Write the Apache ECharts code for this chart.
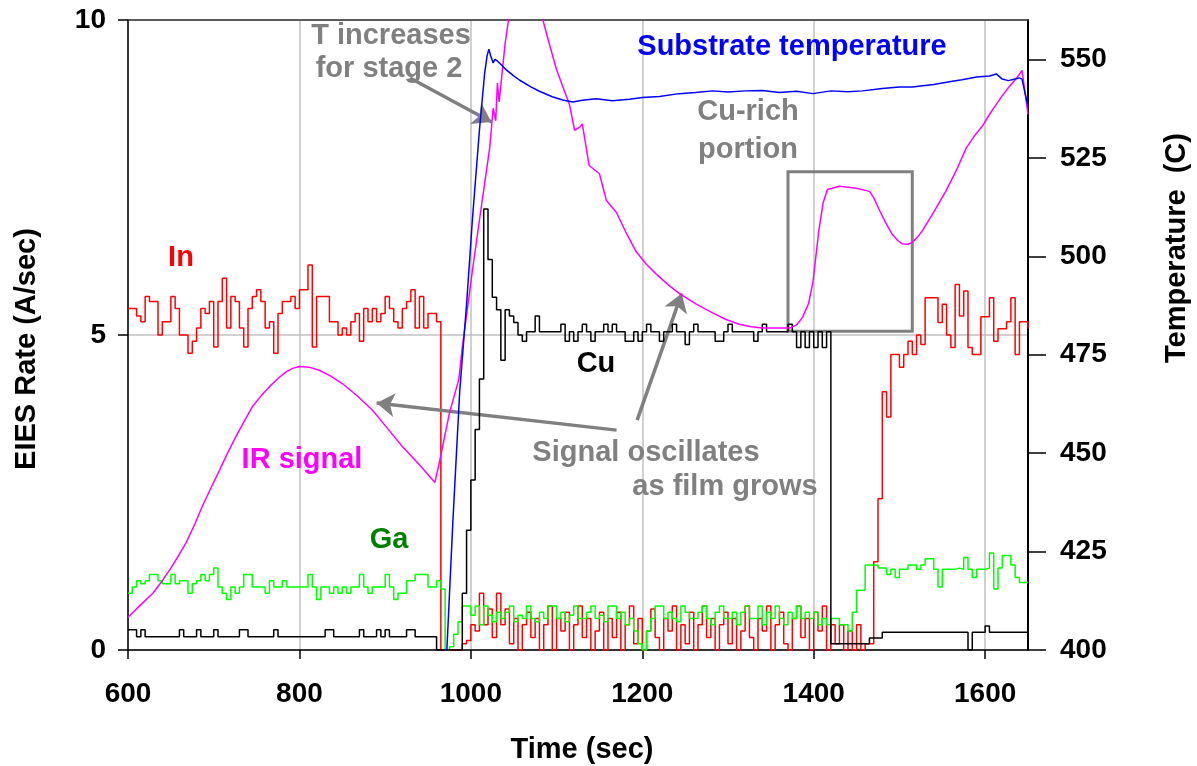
<!DOCTYPE html>
<html><head><meta charset="utf-8">
<script src="https://cdn.jsdelivr.net/npm/echarts@6/dist/echarts.min.js"></script>
<style>html,body{margin:0;padding:0;background:#fff}#c{width:1197px;height:766px}</style>
</head><body><div id="c"></div>
<script>
// sampling grid of the EIES rate traces (seconds)
const T0 = 600, DT = 5;

const inRate = [
 5.42,5.42,5.30,5.21,5.61,5.53,5.53,5.00,5.21,5.21,
 5.61,5.42,5.00,5.00,4.71,4.90,5.11,5.42,5.34,5.53,
 4.81,5.53,5.90,5.11,5.61,5.53,5.11,4.81,5.42,5.61,
 5.72,5.53,5.11,5.21,4.71,5.34,5.53,5.53,5.61,5.42,
 5.72,5.72,6.11,4.81,5.61,5.61,5.61,5.21,5.21,5.00,
 5.11,5.00,5.21,5.34,4.90,5.42,5.21,5.42,5.21,5.34,
 5.61,5.42,5.21,5.11,5.42,5.53,5.72,5.11,5.61,5.11,
 5.34,5.34,5.21,0,0,0,0,0,0.1,0.15,
 0.4,0.3,0.9,0.4,0.65,0.2,0.9,0.4,0.65,0.1,
 0.5,0,0.4,0.6,0.2,0.5,0,0.4,0.7,0,
 0.5,0.3,0.6,0,0.4,0.7,0.2,0.5,0,0.3,
 0.6,0,0.5,0.2,0.6,0,0.4,0.7,0.1,0.5,
 0,0.3,0.65,0.2,0,0.5,0.3,0.7,0,0.4,
 0.1,0.6,0,0.4,0.7,0.2,0.5,0,0.4,0.6,
 0.1,0.5,0,0.3,0.7,0.2,0,0.5,0.3,0.7,
 0,0.4,0.6,0.1,0,0.5,0.7,0.2,0.5,0,
 0.6,0.3,0.7,0,0.4,0.1,0.4,0,0.3,0,
 0.4,0,0.1,0.1,1.4,2.4,4.1,3.7,4.69,4.69,
 4.49,4.69,4.9,4.69,5.0,4.85,5.59,5.59,5.59,5.2,
 5.49,5.0,4.8,5.8,5.3,5.7,4.8,4.69,4.69,5.29,
 5.29,5.59,4.9,5.1,5.1,5.21,5.59,4.69,5.21,5.21,
 5.1
];

const gaRate = [
 0.9,1.0,1.1,1.05,1.1,1.2,1.2,1.1,1.05,1.05,
 1.2,1.05,1.1,1.1,0.9,1.05,1.1,1.2,1.1,1.2,
 1.3,1.0,0.9,0.8,1.0,0.9,1.0,1.2,1.2,1.0,
 1.0,1.0,0.9,1.1,1.0,1.0,1.1,1.0,1.0,1.0,
 1.0,1.0,1.2,1.0,0.8,1.0,1.0,0.9,1.0,0.9,
 1.0,0.9,1.0,1.0,1.2,1.0,0.9,1.0,1.0,1.0,
 1.2,1.0,0.8,0.9,0.9,1.1,1.1,1.2,1.2,1.2,
 1.0,1.0,1.1,0.97,0,0.05,0.25,0.45,0.7,0.7,
 0.55,0.7,0.4,0.7,0.55,0.45,0.6,0.5,0.6,0.7,
 0.45,0.55,0.5,0.7,0.5,0.45,0.6,0.5,0.7,0.7,
 0.5,0.6,0.45,0.55,0.7,0.5,0.5,0.6,0.7,0.5,
 0.55,0.45,0.7,0.7,0.5,0.6,0.4,0.5,0.3,0.1,
 0,0.3,0.5,0.7,0.7,0.5,0.6,0.5,0.45,0.7,
 0.6,0.5,0.5,0.6,0.7,0.5,0.4,0.6,0.7,0.5,
 0.5,0.6,0.4,0.6,0.7,0.5,0.5,0.7,0.4,0.6,
 0.5,0.7,0.5,0.4,0.6,0.5,0.7,0.5,0.6,0.5,
 0.6,0.4,0.5,0.4,0.5,0.5,0.4,0.4,0.3,0.6,
 0.95,0.95,1.35,1.35,1.35,1.3,1.3,1.2,1.28,1.15,
 1.28,1.28,1.35,1.35,1.28,1.35,1.45,1.45,1.28,1.0,
 1.28,1.28,1.28,1.3,1.28,1.47,1.28,1.15,1.28,1.28,
 1.3,1.54,0.97,1.3,1.5,1.5,1.35,1.15,1.07,1.07,
 1.07
];

const cuRate = [
 0.32,0.32,0.21,0.32,0.21,0.21,0.21,0.21,0.21,0.21,
 0.21,0.21,0.32,0.21,0.21,0.21,0.32,0.21,0.21,0.21,
 0.32,0.21,0.21,0.21,0.21,0.21,0.32,0.32,0.21,0.21,
 0.21,0.21,0.21,0.21,0.32,0.21,0.21,0.21,0.21,0.21,
 0.21,0.21,0.21,0.21,0.21,0.21,0.32,0.32,0.21,0.21,
 0.21,0.21,0.21,0.21,0.32,0.21,0.21,0.21,0.32,0.21,
 0.32,0.21,0.21,0.21,0.21,0.32,0.32,0.21,0.21,0.21,
 0.21,0.21,0,0,0,0,0,0,0.9,1.9,
 2.7,3.5,4.3,7.0,6.2,5.6,5.4,4.6,5.4,5.3,
 5.2,5.0,4.9,5.05,5.05,5.3,5.05,5.05,5.05,5.05,
 5.05,5.17,4.9,5.05,4.9,5.05,5.17,5.05,4.9,5.05,
 5.05,5.17,5.05,5.17,5.05,5.05,4.9,4.9,5.05,4.9,
 5.05,5.17,5.05,5.05,4.9,5.05,5.05,5.17,5.05,5.05,
 4.85,5.05,5.17,5.05,5.05,5.05,5.05,4.9,4.9,5.05,
 5.17,5.05,5.05,5.05,5.05,5.05,4.9,5.05,5.17,5.05,
 5.05,5.05,5.05,5.05,5.17,5.05,4.8,5.05,4.8,5.05,
 4.8,5.05,4.8,5.05,0.1,0.1,0.1,0.1,0.1,0.1,
 0.1,0.1,0.1,0.19,0.19,0.19,0.28,0.28,0.28,0.28,
 0.28,0.28,0.28,0.28,0.28,0.28,0.28,0.28,0.28,0.28,
 0.28,0.28,0.28,0.28,0.28,0.28,0,0.28,0.28,0.28,
 0.38,0.28,0.28,0.28,0.28,0.28,0.28,0.28,0.28,0.28,
 0.28
];

// IR signal [time, value on rate axis]
const irSignal = [
 [600,0.52],[615,0.72],[629,0.9],[640,1.1],[650,1.3],[660,1.52],[668,1.71],[678,2.0],[687,2.29],
 [697,2.58],[707,2.86],[716,3.12],[726,3.39],[736,3.64],[745,3.86],[755,4.03],[765,4.18],[775,4.31],
 [784,4.41],[792,4.47],[800,4.5],[811,4.49],[823,4.44],[836,4.35],[850,4.23],[867,4.04],[885,3.81],
 [902,3.53],[920,3.23],[940,2.94],[958,2.66],
 [963,2.96],[975,3.76],[986,4.3],[990,4.8],[1002,6.04],[1014,7.21],[1022,7.97],[1026,8.6],
 [1029,8.4],[1031,9.0],[1033,8.7],[1036,9.1],[1040,9.63],[1045,10.1],[1055,10.6],[1065,10.8],
 [1075,10.6],[1084,10.0],[1092,9.6],[1100,9.21],[1115,8.66],[1121,8.25],[1127,8.3],[1130,8.35],
 [1138,7.69],[1150,7.56],[1158,7.14],[1170,6.94],[1182,6.6],[1193,6.32],[1205,6.12],[1216,5.97],
 [1230,5.8],[1243,5.66],[1263,5.49],[1282,5.35],[1297,5.25],[1313,5.17],[1327,5.13],[1340,5.11],
 [1372,5.11],[1380,5.16],[1387,5.28],[1394,5.5],[1399,5.83],[1406,6.66],[1411,7.1],[1416,7.31],
 [1430,7.36],[1450,7.33],[1465,7.28],[1470,7.18],[1476,7.0],[1484,6.78],[1492,6.59],[1498,6.5],
 [1503,6.45],[1510,6.44],[1515,6.47],[1521,6.55],[1527,6.66],[1540,6.95],[1554,7.28],[1566,7.6],
 [1578,7.97],[1587,8.15],[1597,8.32],[1605,8.5],[1613,8.66],[1620,8.8],[1628,8.94],[1635,9.05],
 [1640,9.14],[1643,9.2],[1650,8.5]
];

// substrate temperature [time, deg C]
const substrateTemp = [
 [968,396],[972,400],[979,432.6],[987,465.7],[995,487.8],[1002,509.9],[1010,532],[1016,546.3],
 [1019,551],[1021,552.6],[1023,551],[1026,549.1],[1028,550],[1031,549.6],[1036,548.5],[1041,547.4],
 [1050,545.8],[1057,544.7],[1070,543],[1080,541.9],[1095,540.5],[1107,539.7],[1119,539.2],[1130,539.6],
 [1146,540],[1165,539.5],[1185,539.9],[1200,540.3],[1220,540.6],[1243,541.3],[1262,541.6],[1282,542],
 [1300,541.7],[1320,542],[1340,542.1],[1360,541.6],[1380,541.9],[1399,541.3],[1420,542],[1440,541.8],
 [1457,542],[1480,542.6],[1500,543],[1515,543],[1540,543.6],[1560,544.4],[1573,544.8],[1590,545.5],
 [1605,545.8],[1613,546.3],[1620,545],[1627,544.6],[1635,545],[1640,545.3],[1643,545],[1646,542],[1650,538]
];

const timeTicks = [600,800,1000,1200,1400,1600];
const rateTicks = [0,5,10];
const tempTicks = [400,425,450,475,500,525,550];

// annotation geometry in data coordinates (time, rate)
const arrows = [
 [[929,9.08],[1024,8.38]],
 [[1170,3.49],[890,3.92]],
 [[1194,3.65],[1246,5.66]]
];
const cuRichBox = [[1370,7.59],[1515,5.06]];

const toPairs = arr => arr.map((v,i)=>[T0 + i*DT, v]);

const FONT = '"Liberation Sans", Arial, sans-serif';
const GREY = '#808080';
const chart = echarts.init(document.getElementById('c'), null, {renderer:'canvas'});

function txt(text, x, y, color, rot){
  return {type:'text', x:x, y:y, rotation: rot||0, z:100,
    style:{text:text, fill:color, font:'bold 29px ' + FONT, textAlign:'center', textVerticalAlign:'middle'}};
}

const lineBase = {type:'line', showSymbol:false, symbol:'none', animation:false, silent:true, clip:true};
const plain = v => String(v);

chart.setOption({
  animation:false,
  backgroundColor:'#fff',
  grid:{left:128, right:169, top:20, bottom:116, containLabel:false},
  xAxis:[{
    type:'value', min:600, max:1650, interval:200,
    axisLine:{show:true, lineStyle:{color:'#000', width:1.5}},
    axisTick:{show:true, length:9, customValues:timeTicks, lineStyle:{color:'#000', width:1.5}},
    axisLabel:{show:true, margin:30, customValues:timeTicks, formatter:plain, color:'#000', fontSize:28, fontWeight:'bold', fontFamily:FONT},
    splitLine:{show:true, lineStyle:{color:'#c0c0c0', width:1.5}}
  },{
    type:'value', min:600, max:1650, position:'top',
    axisLine:{show:true, lineStyle:{color:'#333', width:1.5}},
    axisTick:{show:false}, axisLabel:{show:false}, splitLine:{show:false}
  }],
  yAxis:[{
    type:'value', min:0, max:10, interval:5, position:'left',
    axisLine:{show:true, lineStyle:{color:'#000', width:1.5}},
    axisTick:{show:true, length:10, customValues:rateTicks, lineStyle:{color:'#000', width:1.5}},
    axisLabel:{margin:22, customValues:rateTicks, formatter:plain, color:'#000', fontSize:28, fontWeight:'bold', fontFamily:FONT},
    splitLine:{show:true, lineStyle:{color:'#c0c0c0', width:1.5}}
  },{
    type:'value', min:400, max:560, interval:25, position:'right',
    axisLine:{show:true, lineStyle:{color:'#000', width:2}},
    axisTick:{show:true, length:18, customValues:tempTicks, lineStyle:{color:'#000', width:1.5}},
    axisLabel:{margin:32, customValues:tempTicks, formatter:plain, color:'#000', fontSize:28, fontWeight:'bold', fontFamily:FONT},
    splitLine:{show:false}
  }],
  series:[
    Object.assign({}, lineBase, {name:'In', step:'end', data:toPairs(inRate), yAxisIndex:0,
      lineStyle:{color:'#ff0000', width:1.5}, z:3}),
    Object.assign({}, lineBase, {name:'Ga', step:'end', data:toPairs(gaRate), yAxisIndex:0,
      lineStyle:{color:'#00ff00', width:1.5}, z:4}),
    Object.assign({}, lineBase, {name:'Cu', step:'end', data:toPairs(cuRate), yAxisIndex:0,
      lineStyle:{color:'#000000', width:1.5}, z:5}),
    Object.assign({}, lineBase, {name:'IR signal', data:irSignal, yAxisIndex:0,
      lineStyle:{color:'#ff00ff', width:1.5}, z:6,
      markArea:{silent:true, animation:false, label:{show:false},
        itemStyle:{color:'rgba(0,0,0,0)', borderColor:GREY, borderWidth:3},
        data:[[{coord:cuRichBox[0]},{coord:cuRichBox[1]}]]}
    }),
    Object.assign({}, lineBase, {name:'Substrate temperature', data:substrateTemp, yAxisIndex:1,
      lineStyle:{color:'#0000ff', width:1.5}, z:7}),
    {type:'line', name:'annotations', data:[], yAxisIndex:0, silent:true, animation:false, z:8,
      markLine:{silent:true, animation:false, symbol:['none','arrow'], symbolSize:18,
        label:{show:false}, lineStyle:{color:GREY, width:3.5, type:'solid'},
        itemStyle:{color:GREY},
        data: arrows.map(a=>[{coord:a[0], symbol:'none'},{coord:a[1], symbol:'arrow', symbolSize:18}])}
    }
  ],
  graphic:[
    txt('In', 181, 258, '#ff0000'),
    txt('IR signal', 302, 460, '#ff00ff'),
    txt('Ga', 389, 540, '#008000'),
    txt('Cu', 596, 364, '#000000'),
    txt('Substrate temperature', 792, 47, '#0000ff'),
    txt('T increases', 391, 36, GREY),
    txt('for stage 2', 389, 69, GREY),
    txt('Cu-rich', 748, 112, GREY),
    txt('portion', 748, 150, GREY),
    txt('Signal oscillates', 646, 453, GREY),
    txt('as film grows', 725, 487, GREY),
    txt('Time (sec)', 582, 750, '#000000'),
    txt('EIES Rate (A/sec)', 27, 349, '#000000', Math.PI/2),
    txt('Temperature  (C)', 1177, 248, '#000000', Math.PI/2)
  ]
});
</script></body></html>
